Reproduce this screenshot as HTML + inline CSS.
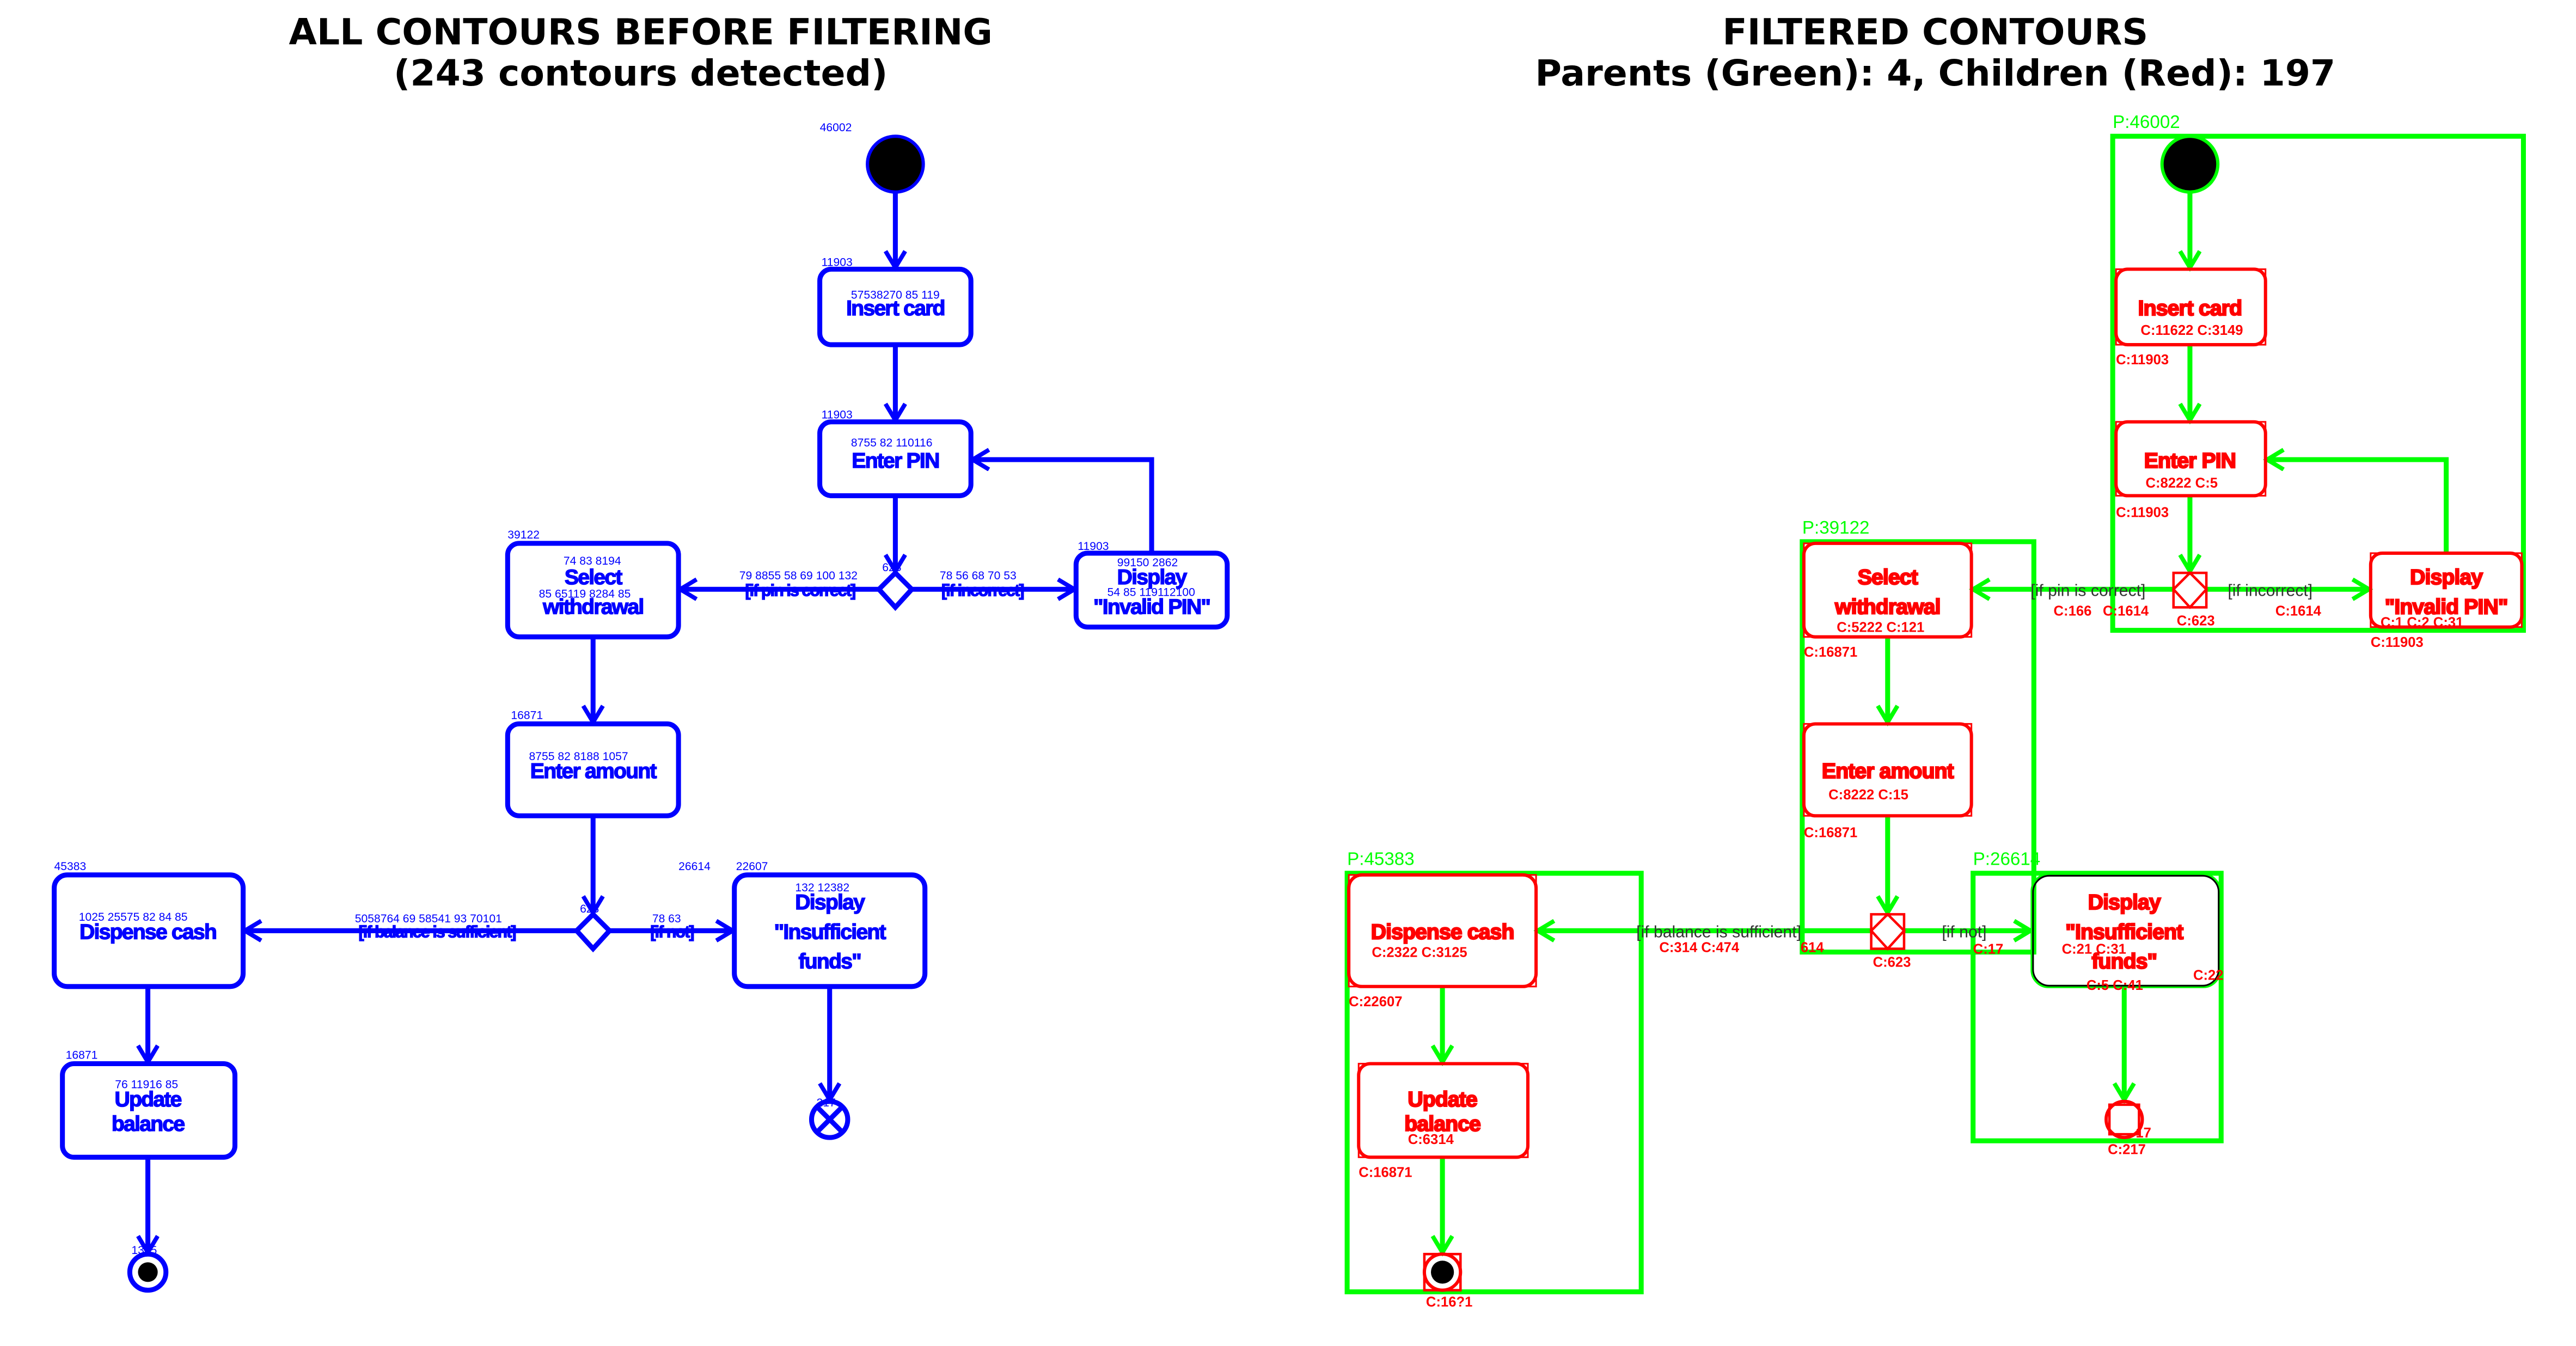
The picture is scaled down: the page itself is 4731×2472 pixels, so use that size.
<!DOCTYPE html>
<html><head><meta charset="utf-8"><style>
html,body{margin:0;padding:0;background:#fff;}
svg{display:block;}
</style></head><body>
<svg width="4731" height="2472" viewBox="0 0 1568 820" preserveAspectRatio="none" xmlns="http://www.w3.org/2000/svg" font-family="Liberation Sans, DejaVu Sans, sans-serif">
<defs>
<marker id="ab" markerUnits="userSpaceOnUse" markerWidth="16" markerHeight="16" refX="11" refY="7" orient="auto">
<path d="M1,1 L11,7 L1,13" fill="none" stroke="#0000ff" stroke-width="2.6"/></marker>
<marker id="ag" markerUnits="userSpaceOnUse" markerWidth="16" markerHeight="16" refX="11" refY="7" orient="auto">
<path d="M1,1 L11,7 L1,13" fill="none" stroke="#00ff00" stroke-width="2.6"/></marker>
</defs>
<rect width="1568" height="820" fill="#fff"/>
<!-- titles -->
<g font-family="DejaVu Sans, sans-serif" font-weight="bold" font-size="22" text-anchor="middle" fill="#000">
<text x="390" y="27">ALL CONTOURS BEFORE FILTERING</text>
<text x="390" y="52">(243 contours detected)</text>
<text x="1178" y="27">FILTERED CONTOURS</text>
<text x="1178" y="52">Parents (Green): 4, Children (Red): 197</text>
</g>

<!-- LEFT PANEL -->
<g stroke="#0000ff" stroke-width="3" fill="none">
<circle cx="545" cy="100" r="17" fill="#000" stroke-width="2"/>
<line x1="545" y1="117" x2="545" y2="163" marker-end="url(#ab)"/>
<rect x="499" y="164" width="92" height="46" rx="7"/>
<line x1="545" y1="210" x2="545" y2="256" marker-end="url(#ab)"/>
<rect x="499" y="257" width="92" height="45" rx="7"/>
<line x1="545" y1="302" x2="545" y2="348" marker-end="url(#ab)"/>
<path d="M545,349 L555,359 L545,370 L535,359 Z" fill="#fff"/>
<line x1="535" y1="359" x2="414" y2="359" marker-end="url(#ab)"/>
<line x1="555" y1="359" x2="654" y2="359" marker-end="url(#ab)"/>
<rect x="309" y="331" width="104" height="57" rx="7"/>
<rect x="655" y="337" width="92" height="45" rx="7"/>
<path d="M701,337 L701,280 L592,280" marker-end="url(#ab)"/>
<line x1="361" y1="388" x2="361" y2="440" marker-end="url(#ab)"/>
<rect x="309" y="441" width="104" height="56" rx="7"/>
<line x1="361" y1="497" x2="361" y2="556" marker-end="url(#ab)"/>
<path d="M361,557 L371,567 L361,578 L351,567 Z" fill="#fff"/>
<line x1="351" y1="567" x2="149" y2="567" marker-end="url(#ab)"/>
<line x1="371" y1="567" x2="446" y2="567" marker-end="url(#ab)"/>
<rect x="33" y="533" width="115" height="68" rx="8"/>
<rect x="447" y="533" width="116" height="68" rx="8"/>
<line x1="90" y1="601" x2="90" y2="647" marker-end="url(#ab)"/>
<rect x="38" y="648" width="105" height="57" rx="7"/>
<line x1="90" y1="705" x2="90" y2="763" marker-end="url(#ab)"/>
<circle cx="90" cy="775" r="11"/>
<circle cx="90" cy="775" r="6" fill="#000" stroke="none"/>
<line x1="505" y1="601" x2="505" y2="670" marker-end="url(#ab)"/>
<circle cx="505" cy="682" r="11"/>
<path d="M498,675 L512,689 M512,675 L498,689"/>
</g>
<g fill="#0000ff" stroke="#0000ff" stroke-width="0.5" font-weight="bold" font-size="13" text-anchor="middle" letter-spacing="-0.6">
<text x="545" y="192">Insert card</text>
<text x="545" y="285">Enter PIN</text>
<text x="361" y="356">Select</text>
<text x="361" y="374">withdrawal</text>
<text x="701" y="356">Display</text>
<text x="701" y="374">"Invalid PIN"</text>
<text x="361" y="474">Enter amount</text>
<text x="90" y="572">Dispense cash</text>
<text x="505" y="554">Display</text>
<text x="505" y="572">"Insufficient</text>
<text x="505" y="590">funds"</text>
<text x="90" y="674">Update</text>
<text x="90" y="689">balance</text>
<text x="487" y="363" font-size="10">[if pin is correct]</text>
<text x="598" y="363" font-size="10">[if incorrect]</text>
<text x="266" y="571" font-size="10">[if balance is sufficient]</text>
<text x="409" y="571" font-size="10">[if not]</text>
</g>
<g fill="#0000ff" font-size="7">
<text x="499" y="80">46002</text>
<text x="500" y="162">11903</text><text x="518" y="182">57538270 85 119</text>
<text x="500" y="255">11903</text><text x="518" y="272">8755 82 110116</text>
<text x="309" y="328">39122</text><text x="343" y="344">74 83 8194</text><text x="328" y="364">85 65119 8284 85</text>
<text x="656" y="335">11903</text><text x="680" y="345">99150 2862</text><text x="674" y="363">54 85 119112100</text>
<text x="450" y="353">79 8855 58 69 100 132</text><text x="537" y="348">623</text>
<text x="572" y="353">78 56 68 70 53</text>
<text x="311" y="438">16871</text><text x="322" y="463">8755 82 8188 1057</text>
<text x="33" y="530">45383</text><text x="48" y="561">1025 25575 82 84 85</text>
<text x="413" y="530">26614</text><text x="448" y="530">22607</text><text x="484" y="543">132 12382</text>
<text x="216" y="562">5058764 69 58541 93 70101</text><text x="353" y="556">623</text><text x="397" y="562">78 63</text>
<text x="40" y="645">16871</text><text x="70" y="663">76 11916 85</text>
<text x="80" y="764">1305</text><text x="497" y="674">217</text>
</g>

<!-- RIGHT PANEL -->
<g stroke="#00ff00" stroke-width="3" fill="none">
<rect x="1286" y="83" width="250" height="301"/>
<rect x="1097" y="330" width="141" height="250"/>
<rect x="820" y="532" width="179" height="255"/>
<rect x="1201" y="532" width="151" height="163"/>
<line x1="1333" y1="117" x2="1333" y2="163" marker-end="url(#ag)"/>
<line x1="1333" y1="210" x2="1333" y2="256" marker-end="url(#ag)"/>
<line x1="1333" y1="302" x2="1333" y2="348" marker-end="url(#ag)"/>
<line x1="1323" y1="359" x2="1201" y2="359" marker-end="url(#ag)"/>
<line x1="1343" y1="359" x2="1442" y2="359" marker-end="url(#ag)"/>
<path d="M1489,337 L1489,280 L1380,280" marker-end="url(#ag)"/>
<line x1="1149" y1="388" x2="1149" y2="440" marker-end="url(#ag)"/>
<line x1="1149" y1="497" x2="1149" y2="556" marker-end="url(#ag)"/>
<line x1="1139" y1="567" x2="936" y2="567" marker-end="url(#ag)"/>
<line x1="1159" y1="567" x2="1236" y2="567" marker-end="url(#ag)"/>
<line x1="878" y1="601" x2="878" y2="647" marker-end="url(#ag)"/>
<line x1="878" y1="705" x2="878" y2="763" marker-end="url(#ag)"/>
<line x1="1293" y1="601" x2="1293" y2="670" marker-end="url(#ag)"/>
<rect x="1237" y="533" width="114" height="68" rx="10" stroke-width="2"/>
</g>
<circle cx="1333" cy="100" r="17" fill="#000" stroke="#00ff00" stroke-width="2"/>
<rect x="1237.5" y="533.5" width="113" height="67" rx="10" fill="none" stroke="#000" stroke-width="1"/>
<g stroke="#ff0000" stroke-width="2" fill="none">
<rect x="1288" y="164" width="91" height="46" rx="7"/><rect x="1288" y="164" width="91" height="46" stroke-width="1"/>
<rect x="1288" y="257" width="91" height="45" rx="7"/><rect x="1288" y="257" width="91" height="45" stroke-width="1"/>
<rect x="1098" y="331" width="102" height="57" rx="7"/><rect x="1098" y="331" width="102" height="57" stroke-width="1"/>
<rect x="1443" y="337" width="92" height="45" rx="7"/><rect x="1443" y="337" width="92" height="45" stroke-width="1"/>
<rect x="1098" y="441" width="102" height="56" rx="7"/><rect x="1098" y="441" width="102" height="56" stroke-width="1"/>
<rect x="821" y="533" width="114" height="68" rx="8"/><rect x="821" y="533" width="114" height="68" stroke-width="1"/>
<rect x="827" y="648" width="103" height="57" rx="7"/><rect x="827" y="648" width="103" height="57" stroke-width="1"/>
<rect x="1323" y="349" width="20" height="21" stroke-width="1.5"/>
<path d="M1333,349 L1343,359 L1333,370 L1323,359 Z" stroke-width="1.5"/>
<rect x="1139" y="557" width="20" height="21" stroke-width="1.5"/>
<path d="M1149,557 L1159,567 L1149,578 L1139,567 Z" stroke-width="1.5"/>
<circle cx="878" cy="775" r="11"/><rect x="867" y="764" width="22" height="22" stroke-width="1.5"/>
<circle cx="1293" cy="682" r="11"/><rect x="1284" y="673" width="18" height="18" stroke-width="1.5"/>
</g>
<circle cx="878" cy="775" r="7" fill="#000"/>
<g fill="#ff0000" stroke="#ff0000" stroke-width="0.8" font-weight="bold" font-size="13" text-anchor="middle" letter-spacing="-0.3">
<text x="1333" y="192">Insert card</text>
<text x="1333" y="285">Enter PIN</text>
<text x="1149" y="356">Select</text>
<text x="1149" y="374">withdrawal</text>
<text x="1489" y="356">Display</text>
<text x="1489" y="374">"Invalid PIN"</text>
<text x="1149" y="474">Enter amount</text>
<text x="878" y="572">Dispense cash</text>
<text x="1293" y="554">Display</text>
<text x="1293" y="572">"Insufficient</text>
<text x="1293" y="590">funds"</text>
<text x="878" y="674">Update</text>
<text x="878" y="689">balance</text>
</g>
<g fill="#ff0000" font-size="8.5" font-weight="bold">
<text x="1303" y="204">C:11622 C:3149</text>
<text x="1288" y="222">C:11903</text>
<text x="1306" y="297">C:8222 C:5</text>
<text x="1288" y="315">C:11903</text>
<text x="1118" y="385">C:5222 C:121</text>
<text x="1098" y="400">C:16871</text>
<text x="1113" y="487">C:8222 C:15</text>
<text x="1098" y="510">C:16871</text>
<text x="1449" y="382">C:1 C:2 C:31</text>
<text x="1443" y="394">C:11903</text>
<text x="1250" y="375">C:166</text><text x="1280" y="375">C:1614</text>
<text x="1385" y="375">C:1614</text>
<text x="1325" y="381">C:623</text>
<text x="835" y="583">C:2322 C:3125</text>
<text x="821" y="613">C:22607</text>
<text x="1010" y="580">C:314 C:474</text><text x="1096" y="580">614</text>
<text x="1140" y="589">C:623</text><text x="1201" y="581">C:17</text>
<text x="1255" y="581">C:21 C:31</text><text x="1335" y="597">C:22</text>
<text x="1270" y="603">C:5 C:41</text>
<text x="857" y="697">C:6314</text>
<text x="827" y="717">C:16871</text>
<text x="868" y="796">C:16?1</text>
<text x="1283" y="703">C:217</text><text x="1300" y="693">17</text>
</g>
<g font-size="10">
<text x="1236" y="363" fill="#333">[if pin is correct]</text>
<text x="1356" y="363" fill="#333">[if incorrect]</text>
<text x="996" y="571" fill="#333">[if balance is sufficient]</text>
<text x="1182" y="571" fill="#333">[if not]</text>
</g>
<g fill="#00ff00" font-size="11">
<text x="1286" y="78">P:46002</text>
<text x="1097" y="325">P:39122</text>
<text x="820" y="527">P:45383</text>
<text x="1201" y="527">P:26614</text>
</g>
</svg>
</body></html>
